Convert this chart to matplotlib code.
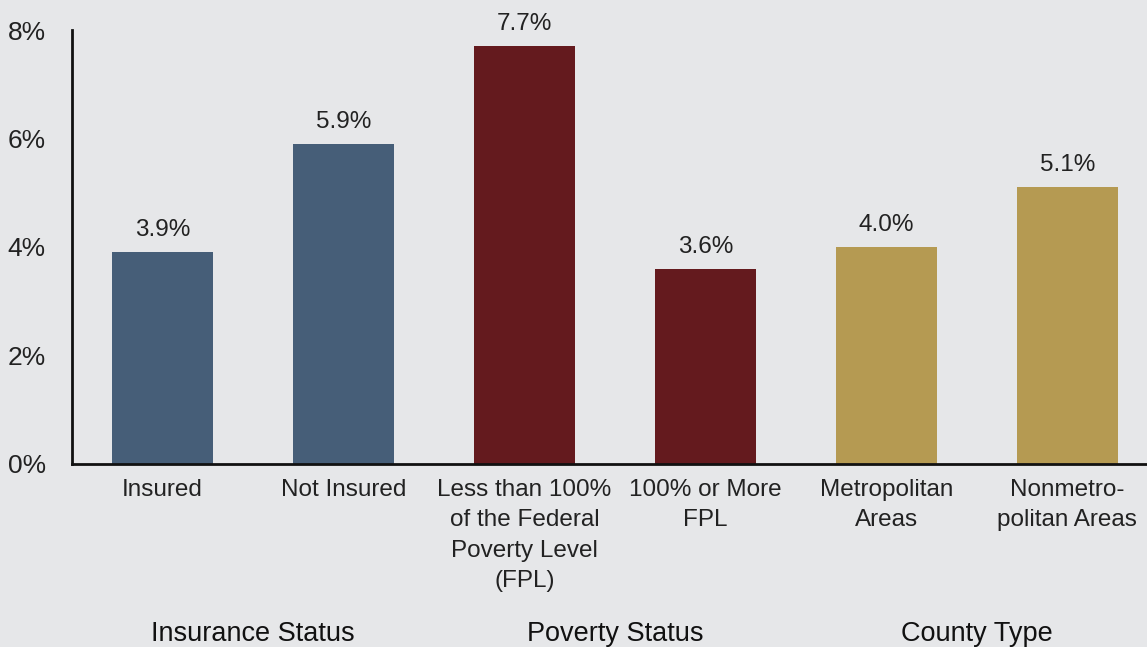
import matplotlib.pyplot as plt
from matplotlib.transforms import blended_transform_factory

# data
categories = ["Insured", "Not Insured",
              "Less than 100%\nof the Federal\nPoverty Level\n(FPL)",
              "100% or More\nFPL", "Metropolitan\nAreas", "Nonmetro-\npolitan Areas"]
values = [3.9, 5.9, 7.7, 3.6, 4.0, 5.1]
groups = ["Insurance Status", "Poverty Status", "County Type"]
group_of_bar = [0, 0, 1, 1, 2, 2]
group_colors = ["#465E78", "#641A1E", "#B59A52"]

bg = "#E6E7E9"
plt.rcParams["font.family"] = ["Liberation Sans", "DejaVu Sans"]

fig = plt.figure(figsize=(11.47, 6.47), dpi=100, facecolor=bg)
ax = fig.add_axes([0.0628, 0.2829, 0.9372, 0.6707], facecolor=bg)

x = list(range(len(values)))
colors = [group_colors[g] for g in group_of_bar]
ax.bar(x, values, width=0.56, color=colors, zorder=2)

for xi, v in zip(x, values):
    ax.annotate(f"{v:.1f}%", (xi, v), xytext=(0, 8), textcoords="offset points",
                ha="center", va="bottom", fontsize=17.5, color="#222222")

ax.set_ylim(0, 8)
ax.set_xlim(-0.5, 5.44)
ax.set_yticks([0, 2, 4, 6, 8])
ax.set_yticklabels(["0%", "2%", "4%", "6%", "8%"], fontsize=19, color="#222222")
ax.set_xticks(x)
ax.set_xticklabels(categories, fontsize=17.5, color="#222222", linespacing=1.48, va="top")
ax.tick_params(axis="both", length=0)
ax.tick_params(axis="y", pad=19)
ax.tick_params(axis="x", pad=11)

for s in ["top", "right"]:
    ax.spines[s].set_visible(False)
for s in ["left", "bottom"]:
    ax.spines[s].set_linewidth(2)
    ax.spines[s].set_color("#111111")

# group labels under pairs of bars
trans = blended_transform_factory(ax.transData, fig.transFigure)
for gi, name in enumerate(groups):
    idx = [i for i, g in enumerate(group_of_bar) if g == gi]
    cx = sum(idx) / len(idx)
    ax.text(cx, 0.02, name, transform=trans, ha="center", va="center",
            fontsize=19.5, color="#111111")

fig.savefig("out.png", dpi=100, facecolor=bg)
